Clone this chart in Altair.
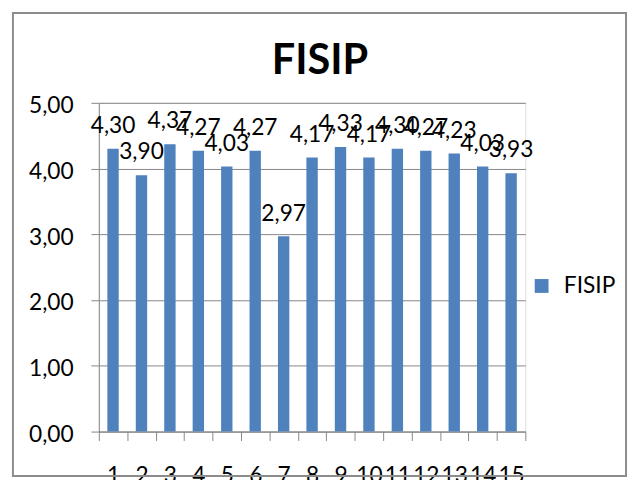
import altair as alt
import pandas as pd

categories = [str(i) for i in range(1, 16)]
values = [4.30, 3.90, 4.37, 4.27, 4.03, 4.27, 2.97, 4.17, 4.33, 4.17, 4.30, 4.27, 4.23, 4.03, 3.93]
series_name = "FISIP"
y_ticks = [0, 1, 2, 3, 4, 5]

df = pd.DataFrame({"kategori": categories, "nilai": values, "seri": [series_name] * len(values)})

FONT = "Lato"
GRAY = "#868686"
BLUE = "#4F81BD"
FS = 23

x_enc = alt.X(
    "kategori:N",
    sort=categories,
    scale=alt.Scale(paddingInner=0, paddingOuter=0),
    axis=alt.Axis(
        title=None, labelAngle=0, labelFontSize=FS, labelFont=FONT, labelColor="black",
        domainColor=GRAY, tickColor=GRAY, tickSize=9, tickBand="extent",
        labelPadding=25, labelOverlap=False, grid=False,
    ),
)
y_enc = alt.Y(
    "nilai:Q",
    scale=alt.Scale(domain=[0, 5], nice=False),
    axis=alt.Axis(
        title=None, values=y_ticks,
        labelExpr="replace(format(datum.value, '.2f'), '.', ',')",
        grid=True, gridColor=GRAY, tickSize=8, tickColor=GRAY, domainColor=GRAY,
        labelFontSize=FS, labelFont=FONT, labelPadding=18, labelColor="black", labelOffset=3,
    ),
)

bars = alt.Chart(df).mark_bar(width=alt.RelativeBandSize(0.4)).encode(
    x=x_enc,
    y=y_enc,
    color=alt.Color(
        "seri:N",
        scale=alt.Scale(domain=[series_name], range=[BLUE]),
        legend=alt.Legend(
            title=None, orient="none", legendX=437, legendY=174, symbolType="square",
            symbolSize=196, labelFontSize=FS, labelFont=FONT, symbolStrokeWidth=0,
            padding=0, labelOffset=11, labelColor="black",
        ),
    ),
)

text = alt.Chart(df).transform_calculate(
    lbl="replace(format(datum.nilai, '.2f'), '.', ',')"
).mark_text(font=FONT, fontSize=FS, dy=-16, baseline="alphabetic", color="black").encode(
    x=alt.X("kategori:N", sort=categories),
    y=alt.Y("nilai:Q"),
    text="lbl:N",
)

frame = alt.Chart(pd.DataFrame({"f": [0]})).mark_rect(
    fill="transparent", stroke="#8c8c8c", strokeWidth=2
).encode(x=alt.value(-87), x2=alt.value(534), y=alt.value(-91), y2=alt.value(378))

chart = alt.layer(frame, bars, text).properties(
    width=432,
    height=333,
    autosize=alt.AutoSizeParams(type="none"),
    padding={"left": 92, "top": 93, "right": 104, "bottom": 46},
    title=alt.TitleParams(
        "FISIP", font=FONT, fontSize=42, fontWeight="bold", anchor="middle", frame="group",
        dx=8, baseline="alphabetic", offset=-105, color="black",
    ),
).configure_view(strokeWidth=0).configure(background="white")

chart.save("out.html", embed_options={"renderer": "svg", "actions": False})
